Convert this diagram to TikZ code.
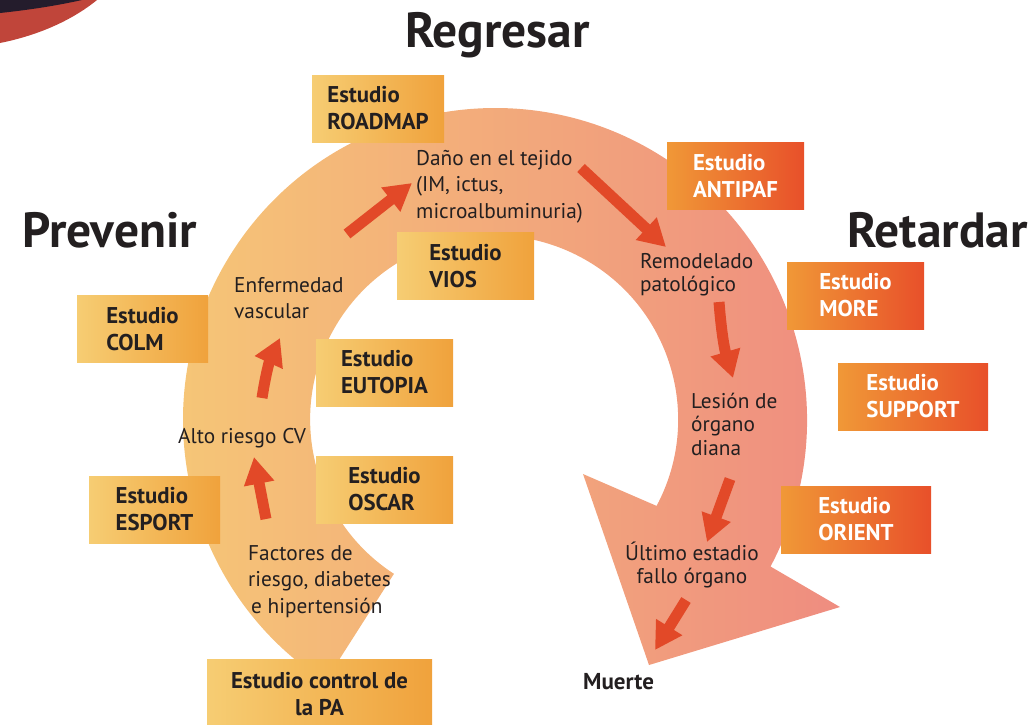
\documentclass[tikz,border=0pt]{standalone}
\usepackage{fontspec}
\setmainfont{PT Sans}
\usetikzlibrary{arrows.meta,calc}
\definecolor{txt}{RGB}{35,31,32}
\definecolor{bandl}{RGB}{246,201,118}
\definecolor{bandr}{RGB}{239,140,128}
\definecolor{yl}{RGB}{246,205,115}
\definecolor{yr}{RGB}{240,162,60}
\definecolor{ol}{RGB}{240,152,55}
\definecolor{orr}{RGB}{232,80,42}
\definecolor{arr}{RGB}{226,73,40}
\definecolor{cred}{RGB}{192,69,58}
\definecolor{cdark}{RGB}{36,28,44}
\begin{document}
\begin{tikzpicture}[x=1pt,y=-1pt,
  lbl/.style={font=\fontsize{21.3}{25}\selectfont, text=txt, inner sep=0pt, align=left, anchor=base west},
  boxbase/.style={font=\bfseries\fontsize{22.8}{27}\selectfont, align=left, inner sep=0pt, minimum height=67pt},
  ybox/.style={boxbase, text=txt, left color=yl, right color=yr},
  obox/.style={boxbase, text=white, left color=ol, right color=orr},
  flow/.style={draw=arr, line width=11pt, -{Triangle[width=29pt,length=27pt]}},
  ttl/.style={font=\bfseries\fontsize{49.5}{52}\selectfont, text=txt, inner sep=0pt, anchor=base west}]
\useasboundingbox (0,0) rectangle (1035,724);
% corner decoration
\fill[cred] (0,0) -- (97,0) .. controls (70,22) and (35,36) .. (0,43) -- cycle;
\fill[cdark] (0,0) -- (82,0) .. controls (55,6) and (28,10) .. (0,13) -- cycle;
% big band arrow
\shade[left color=bandl, right color=bandr]
  (325.1,681.7) arc[start angle=123, end angle=388, radius=312]
  -- (840,607) -- (649,665) -- (583,474) -- (656.6,505.9)
  arc[start angle=388, end angle=123, radius=184] -- cycle;
% titles
\node[ttl] (tR) at (405,47) {Regresar};
\node[ttl] (tP) at (22,247) {Prevenir};
\node[ttl] (tT) at (847,247) {Retardar};
% boxes
\node[ybox, minimum width=132pt] (roadmap) at (378,108.5) {Estudio\\ROADMAP};
\node[obox, minimum width=137pt] (antipaf) at (735.5,175.5) {Estudio\\ANTIPAF};
\node[ybox, minimum width=137pt] (vios) at (465.5,266) {Estudio\\VIOS};
\node[obox, minimum width=137pt] (more) at (855.5,295.5) {Estudio\\MORE};
\node[ybox, minimum width=131pt] (colm) at (142.5,329) {Estudio\\COLM};
\node[ybox, minimum width=137pt] (eutopia) at (384.5,372.5) {Estudio\\EUTOPIA};
\node[obox, minimum width=150pt] (support) at (913,396.5) {Estudio\\SUPPORT};
\node[ybox, minimum width=137pt] (oscar) at (384.5,489.5) {Estudio\\OSCAR};
\node[ybox, minimum width=131pt] (esport) at (154.5,509.5) {Estudio\\ESPORT};
\node[obox, minimum width=150pt] (orient) at (856,519.5) {Estudio\\ORIENT};
\node[ybox, minimum width=225pt, minimum height=70pt, align=center] (pa) at (319.5,694) {Estudio control de\\la PA};
% labels (anchor = baseline of last line)
\node[lbl, font=\fontsize{21.3}{26.5}\selectfont] (dano) at (416,218) {Daño en el tejido\\(IM, ictus,\\microalbuminuria)};
\node[lbl, font=\fontsize{21.3}{26}\selectfont] (vasc) at (234,318) {Enfermedad\\vascular};
\node[lbl] (alto) at (178,443) {Alto riesgo CV};
\node[lbl, font=\fontsize{21.3}{26.5}\selectfont] (fact) at (248,613) {Factores de\\riesgo, diabetes\\\hspace*{3pt}e hipertensión};
\node[lbl, font=\fontsize{21.3}{23.5}\selectfont] (remod) at (640,291.5) {Remodelado\\patológico};
\node[lbl, font=\fontsize{21.3}{23.5}\selectfont] (lesion) at (691,455) {Lesión de\\órgano\\diana};
\node[lbl, align=center, anchor=base, font=\fontsize{21.3}{23}\selectfont] (ultimo) at (692,583) {Último estadio\\fallo órgano};
\node[lbl, font=\bfseries\fontsize{23}{25}\selectfont] (muerte) at (583,689) {Muerte};
% flow arrows
\coordinate (a1s) at (266,519); \coordinate (a1e) at (254,457);
\coordinate (a2s) at (262,398); \coordinate (a2e) at (280,338);
\coordinate (a3s) at (347,234); \coordinate (a3e) at (412,183);
\coordinate (a4s) at (581,168); \coordinate (a4e) at (666,247);
\coordinate (a5s) at (719,302); \coordinate (a5e) at (733,378);
\coordinate (a6s) at (730,479); \coordinate (a6e) at (707,542);
\coordinate (a7s) at (686,600); \coordinate (a7e) at (655,650);
\draw[flow] (a1s) -- (a1e);
\draw[flow] (a2s) to[bend left=8] (a2e);
\draw[flow] (a3s) -- (a3e);
\draw[flow] (a4s) -- (a4e);
\draw[flow] (a5s) to[bend right=6] (a5e);
\draw[flow] (a6s) -- (a6e);
\draw[flow] (a7s) -- (a7e);
\end{tikzpicture}
\end{document}
